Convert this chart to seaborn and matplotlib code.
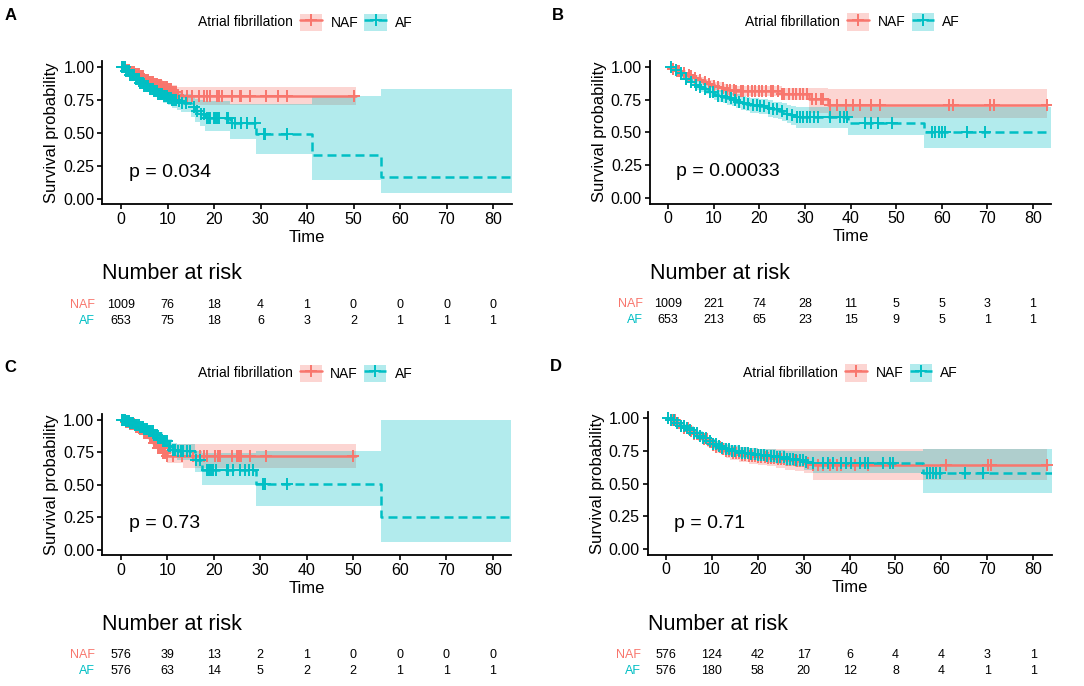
import numpy as np
import pandas as pd
import seaborn as sns
import matplotlib
matplotlib.use("Agg")
import matplotlib.pyplot as plt
from matplotlib.patches import Patch
from matplotlib.lines import Line2D
from matplotlib.transforms import blended_transform_factory

sns.set_style("ticks")
plt.rcParams["font.family"] = ["Liberation Sans", "DejaVu Sans"]
plt.rcParams["text.color"] = "black"
plt.rcParams["axes.labelcolor"] = "black"
plt.rcParams["xtick.color"] = "black"
plt.rcParams["ytick.color"] = "black"

# ---------------- data ----------------
groups = ["NAF", "AF"]
legend_title = "Atrial fibrillation"
risk_times = [0, 10, 20, 30, 40, 50, 60, 70, 80]
xticks = [0, 10, 20, 30, 40, 50, 60, 70, 80]
yticks = [0.00, 0.25, 0.50, 0.75, 1.00]
ytick_labels = ["0.00", "0.25", "0.50", "0.75", "1.00"]

# Panel A
a_naf_t = [0, 1, 2, 3, 4, 5, 6, 7, 8, 9, 10, 11, 12, 13, 50.5]
a_naf_s = [1.00, 0.98, 0.965, 0.95, 0.93, 0.905, 0.89, 0.875, 0.86, 0.845, 0.83, 0.81, 0.79, 0.78, 0.78]
a_naf_lo = [1.00, 0.97, 0.95, 0.93, 0.905, 0.875, 0.855, 0.84, 0.82, 0.80, 0.78, 0.755, 0.73, 0.71, 0.71]
a_naf_hi = [1.00, 0.99, 0.98, 0.97, 0.955, 0.935, 0.925, 0.91, 0.90, 0.89, 0.88, 0.865, 0.85, 0.845, 0.845]
a_naf_cens = [0.3, 0.6, 0.9, 1.2, 1.5, 1.8, 2.1, 2.4, 2.7, 3.0, 3.3, 3.6, 3.9, 4.2, 4.5, 4.8, 5.1, 5.4,
              5.7, 6.0, 6.3, 6.6, 6.9, 7.2, 7.5, 7.8, 8.1, 8.4, 8.7, 9.0, 9.3, 9.6, 9.9, 10.2, 10.5,
              10.8, 11.1, 11.4, 11.8, 12.3, 13.1, 14.2, 15.3, 16.7, 17.9, 18.6, 19.2, 20.7, 21.0,
              21.8, 23.9, 25.5, 25.8, 27.8, 31.2, 33.7, 35.6, 50.0]
a_af_t = [0, 1, 2, 3, 4, 5, 6, 7, 8, 9, 10, 11, 12, 13, 15, 16, 17, 18, 23.5, 29, 41, 56, 84]
a_af_s = [1.0, 0.97, 0.94, 0.91, 0.88, 0.855, 0.835, 0.815, 0.795, 0.78, 0.765, 0.75, 0.74, 0.73,
          0.70, 0.67, 0.645, 0.617, 0.572, 0.489, 0.332, 0.166, 0.166]
a_af_lo = [1.0, 0.955, 0.92, 0.885, 0.85, 0.82, 0.80, 0.775, 0.75, 0.73, 0.71, 0.69, 0.675, 0.66,
           0.62, 0.58, 0.55, 0.516, 0.458, 0.338, 0.144, 0.043, 0.043]
a_af_hi = [1.0, 0.985, 0.96, 0.935, 0.91, 0.89, 0.87, 0.855, 0.84, 0.83, 0.82, 0.81, 0.80, 0.795,
           0.775, 0.76, 0.75, 0.745, 0.72, 0.72, 0.78, 0.836, 0.836]
a_af_cens = [0.2, 0.5, 0.8, 1.1, 1.4, 1.7, 2.0, 2.3, 2.6, 2.9, 3.2, 3.5, 3.8, 4.1, 4.4, 4.7, 5.0, 5.3,
             5.6, 5.9, 6.2, 6.5, 6.8, 7.1, 7.4, 7.7, 8.0, 8.3, 8.6, 8.9, 9.2, 9.5, 9.8, 10.1, 10.4,
             10.7, 11.0, 11.4, 11.8, 12.5, 13.2, 14.0, 15.6, 16.3, 17.1, 17.8, 18.5, 18.9, 19.2,
             19.9, 20.3, 20.6, 21.0, 22.8, 23.1, 23.9, 24.6, 25.8, 27.1, 28.9, 30.7, 31.0, 35.7]
a_risk_naf = [1009, 76, 18, 4, 1, 0, 0, 0, 0]
a_risk_af = [653, 75, 18, 6, 3, 2, 1, 1, 1]
a_pval = "p = 0.034"

# Panel B
b_naf_t = [0, 1, 2, 3, 4, 5, 6, 7, 8, 9, 10, 11, 12, 13, 15, 25, 31, 35, 83]
b_naf_s = [1.0, 0.985, 0.97, 0.955, 0.94, 0.925, 0.91, 0.895, 0.88, 0.865, 0.855, 0.845, 0.835,
           0.825, 0.818, 0.79, 0.755, 0.709, 0.709]
b_naf_lo = [1.0, 0.975, 0.955, 0.94, 0.92, 0.905, 0.885, 0.87, 0.85, 0.835, 0.82, 0.81, 0.80,
            0.785, 0.78, 0.745, 0.65, 0.61, 0.61]
b_naf_hi = [1.0, 0.995, 0.985, 0.975, 0.96, 0.945, 0.935, 0.92, 0.905, 0.895, 0.885, 0.88, 0.87,
            0.86, 0.855, 0.84, 0.835, 0.828, 0.828]
b_naf_cens = [1, 2, 2.5, 3.5, 4.5, 5, 6, 7, 8, 9, 10, 11, 12, 13, 13.5, 14.5, 15, 16, 16.5, 17.5,
              18.5, 19, 20, 20.5, 21.5, 22.5, 23, 24, 25, 25.5, 26.5, 27.5, 28, 29, 29.5, 30.5,
              31.5, 32.5, 33.5, 34, 35.5, 37, 39, 40.5, 42, 44.5, 46.5, 61.5, 62.5, 70.5, 71.5, 83]
b_af_t = [0, 1, 2, 3, 4, 5, 6, 7, 8, 9, 10, 11, 12, 13, 14, 15, 16, 17, 18, 20, 22, 23, 24, 25, 26,
          27, 28, 39.5, 56, 84]
b_af_s = [1.0, 0.975, 0.95, 0.93, 0.905, 0.88, 0.86, 0.845, 0.83, 0.81, 0.795, 0.78, 0.77, 0.76,
          0.75, 0.735, 0.725, 0.715, 0.71, 0.70, 0.685, 0.675, 0.665, 0.65, 0.64, 0.63, 0.617,
          0.57, 0.506, 0.506]
b_af_lo = [1.0, 0.96, 0.93, 0.905, 0.875, 0.85, 0.825, 0.81, 0.79, 0.77, 0.75, 0.735, 0.72, 0.71,
           0.70, 0.685, 0.67, 0.66, 0.65, 0.64, 0.62, 0.61, 0.60, 0.585, 0.57, 0.56, 0.537,
           0.478, 0.38, 0.38]
b_af_hi = [1.0, 0.99, 0.97, 0.955, 0.935, 0.91, 0.895, 0.88, 0.87, 0.85, 0.84, 0.825, 0.82, 0.81,
           0.80, 0.79, 0.78, 0.77, 0.765, 0.755, 0.745, 0.735, 0.73, 0.72, 0.71, 0.70, 0.69,
           0.69, 0.69, 0.69]
b_af_cens = [0.7, 1.8, 2.9, 4.0, 5.1, 6.2, 7.1, 8.1, 9.2, 9.9, 11.0, 11.9, 12.8, 13.7, 14.6, 15.6,
             16.6, 17.6, 18.7, 19.4, 20.1, 21.0, 22.2, 23.1, 23.9, 24.9, 26.0, 27.1, 28.2, 28.9,
             29.6, 30.4, 31.2, 32.0, 32.9, 35.5, 37.7, 38.6, 39.2, 43.2, 44.6, 46.1, 49.0, 57.8,
             58.6, 59.3, 60.0, 60.8, 65.5, 69.5]
b_risk_naf = [1009, 221, 74, 28, 11, 5, 5, 3, 1]
b_risk_af = [653, 213, 65, 23, 15, 9, 5, 1, 1]
b_pval = "p = 0.00033"

# Panel C
c_naf_t = [0, 1, 2, 3, 4, 5, 6, 7, 8, 9, 10, 13.5, 50.5]
c_naf_s = [1.0, 0.98, 0.965, 0.945, 0.925, 0.895, 0.86, 0.82, 0.78, 0.745, 0.722, 0.718, 0.718]
c_naf_lo = [1.0, 0.97, 0.95, 0.925, 0.90, 0.865, 0.825, 0.78, 0.735, 0.695, 0.67, 0.632, 0.632]
c_naf_hi = [1.0, 0.99, 0.98, 0.965, 0.95, 0.925, 0.895, 0.86, 0.825, 0.814, 0.814, 0.81, 0.81]
c_naf_cens = [0.2, 0.5, 0.8, 1.1, 1.4, 1.7, 2.0, 2.3, 2.6, 2.9, 3.2, 3.5, 3.8, 4.1, 4.4, 4.7, 5.0,
              5.3, 5.6, 5.9, 6.2, 6.5, 6.8, 7.1, 7.4, 7.7, 8.0, 8.3, 8.6, 8.9, 9.2, 9.6, 10.0,
              11.3, 13.1, 15.6, 17.1, 17.9, 18.5, 20.3, 21.0, 21.4, 23.9, 25.1, 25.5, 25.8, 27.8,
              31.2, 50.0]
c_af_t = [0, 1, 2, 3, 4, 5, 6, 7, 8, 9, 10, 11, 12, 16, 17.5, 29, 56, 84]
c_af_s = [1.0, 0.985, 0.97, 0.96, 0.945, 0.93, 0.91, 0.885, 0.86, 0.835, 0.80, 0.77, 0.755, 0.69,
          0.614, 0.507, 0.256, 0.256]
c_af_lo = [1.0, 0.97, 0.95, 0.935, 0.915, 0.895, 0.87, 0.84, 0.81, 0.78, 0.745, 0.71, 0.69, 0.60,
           0.50, 0.338, 0.064, 0.064]
c_af_hi = [1.0, 0.995, 0.99, 0.98, 0.97, 0.96, 0.945, 0.925, 0.905, 0.885, 0.85, 0.82, 0.81, 0.76,
           0.74, 0.76, 1.0, 1.0]
c_af_cens = [0.3, 0.6, 0.9, 1.2, 1.5, 1.8, 2.1, 2.4, 2.7, 3.0, 3.3, 3.6, 3.9, 4.2, 4.5, 4.8, 5.1,
             5.4, 5.7, 6.0, 6.3, 6.6, 6.9, 7.2, 7.5, 7.8, 8.1, 8.4, 8.7, 9.0, 9.3, 9.6, 9.9,
             10.3, 10.7, 11.2, 11.7, 12.3, 12.9, 13.5, 14.2, 15.0, 16.3, 17.1, 18.5, 18.9, 19.4,
             19.9, 20.6, 22.8, 23.1, 24.2, 25.7, 26.7, 27.5, 28.5, 30.7, 31.0, 35.7]
c_risk_naf = [576, 39, 13, 2, 1, 0, 0, 0, 0]
c_risk_af = [576, 63, 14, 5, 2, 2, 1, 1, 1]
c_pval = "p = 0.73"

# Panel D
d_naf_t = [0, 1, 2, 3, 4, 5, 6, 7, 8, 9, 10, 11, 12, 13, 14, 16, 18, 20, 22, 24, 26, 28, 30, 32, 83]
d_naf_s = [1.0, 0.98, 0.96, 0.94, 0.92, 0.90, 0.88, 0.86, 0.84, 0.815, 0.795, 0.78, 0.76, 0.745,
           0.73, 0.72, 0.71, 0.704, 0.695, 0.685, 0.678, 0.67, 0.659, 0.641, 0.641]
d_naf_lo = [1.0, 0.97, 0.945, 0.92, 0.895, 0.87, 0.85, 0.825, 0.80, 0.775, 0.75, 0.735, 0.715,
            0.695, 0.68, 0.665, 0.65, 0.64, 0.63, 0.615, 0.605, 0.595, 0.58, 0.527, 0.527]
d_naf_hi = [1.0, 0.99, 0.975, 0.96, 0.945, 0.93, 0.91, 0.895, 0.875, 0.855, 0.84, 0.825, 0.81,
            0.795, 0.785, 0.775, 0.77, 0.765, 0.762, 0.76, 0.76, 0.76, 0.76, 0.76, 0.76]
d_naf_cens = [0.5, 1.2, 1.9, 2.6, 3.3, 4.0, 4.7, 5.4, 6.1, 6.8, 7.5, 8.2, 8.9, 9.6, 10.3, 11.0,
              11.7, 12.4, 13.1, 13.8, 14.5, 15.2, 15.9, 16.6, 17.3, 18.0, 18.7, 19.4, 20.1, 20.8,
              21.5, 22.2, 22.9, 23.6, 24.3, 25.0, 25.7, 26.4, 27.1, 27.8, 28.5, 29.2, 29.9, 31.0,
              32.1, 33.2, 34.3, 35.7, 37.2, 38.2, 41.1, 44.0, 61.1, 70.2, 70.9, 83.0]
d_af_t = [0, 1, 2, 3, 4, 5, 6, 7, 8, 9, 10, 11, 12, 13, 14, 16, 18, 20, 22, 24, 26, 28, 30, 32, 56, 84]
d_af_s = [1.0, 0.98, 0.96, 0.94, 0.925, 0.905, 0.885, 0.865, 0.845, 0.82, 0.80, 0.785, 0.77, 0.76,
          0.75, 0.735, 0.725, 0.717, 0.71, 0.70, 0.69, 0.68, 0.666, 0.654, 0.578, 0.578]
d_af_lo = [1.0, 0.97, 0.945, 0.92, 0.90, 0.875, 0.855, 0.83, 0.81, 0.785, 0.765, 0.75, 0.73, 0.72,
           0.71, 0.695, 0.68, 0.67, 0.66, 0.65, 0.635, 0.625, 0.60, 0.578, 0.43, 0.43]
d_af_hi = [1.0, 0.99, 0.975, 0.96, 0.95, 0.935, 0.915, 0.90, 0.88, 0.855, 0.835, 0.82, 0.81, 0.80,
           0.79, 0.775, 0.77, 0.765, 0.76, 0.755, 0.75, 0.75, 0.75, 0.75, 0.763, 0.763]
d_af_cens = [0.4, 1.1, 1.8, 2.5, 3.2, 3.9, 4.6, 5.3, 6.0, 6.7, 7.4, 8.1, 8.8, 9.5, 10.2, 10.9,
             11.6, 12.3, 13.0, 13.7, 14.4, 15.1, 15.8, 16.5, 17.2, 17.9, 18.6, 19.3, 20.0, 20.7,
             21.4, 22.1, 22.8, 23.5, 24.2, 24.9, 25.6, 26.3, 27.0, 27.7, 28.4, 29.1, 29.8, 30.5,
             32.1, 34.3, 35.3, 36.4, 38.2, 39.3, 40.4, 42.2, 43.3, 44.0, 47.3, 48.8, 49.5, 56.8,
             57.5, 58.2, 58.9, 59.7, 65.1, 69.1]
d_risk_naf = [576, 124, 42, 17, 6, 4, 4, 3, 1]
d_risk_af = [576, 180, 58, 20, 12, 8, 4, 1, 1]
d_pval = "p = 0.71"

# ---------------- styling ----------------
W, H = 1084, 686
colors = {"NAF": "#F8766D", "AF": "#00BFC4"}
styles = {"NAF": "-", "AF": (0, (3.6, 2.0))}
LW = 1.8

fig = plt.figure(figsize=(W / 100, H / 100), dpi=100)


def fx(px):
    return px / W


def fy(py):
    return 1 - py / H


def draw_panel(letter, curves, risks, pval, x0, pxu, y0, pyu):
    xmin, xmax, ymin, ymax = -4, 84, -0.04, 1.045
    left = x0 + xmin * pxu
    right = x0 + xmax * pxu
    bottom = y0 - ymin * pyu
    top = y0 - ymax * pyu
    ax = fig.add_axes([fx(left), fy(bottom), fx(right - left), (bottom - top) / H])

    for g in groups:
        t, s, lo, hi, cens = curves[g]
        c = colors[g]
        ax.fill_between(t, lo, hi, step="post", color=c, alpha=0.3, linewidth=0)
        df = pd.DataFrame({"time": t, "surv": s})
        sns.lineplot(data=df, x="time", y="surv", ax=ax, color=c, linestyle=styles[g],
                     linewidth=LW, drawstyle="steps-post", estimator=None, sort=False)
        idx = np.searchsorted(np.asarray(t), np.asarray(cens), side="right") - 1
        cy = np.asarray(s)[idx]
        sns.scatterplot(x=cens, y=cy, ax=ax, marker="+", s=64, color=c, linewidth=1.4, zorder=3)

    ax.set_xlim(xmin, xmax)
    ax.set_ylim(ymin, ymax)
    ax.set_xticks(xticks)
    ax.set_yticks(yticks)
    ax.set_yticklabels(ytick_labels)
    ax.set_xlabel("Time", fontsize=12, labelpad=2)
    ax.set_ylabel("Survival probability", fontsize=12, labelpad=3)
    ax.tick_params(axis="both", labelsize=11.5, length=3.6, width=1.2, pad=2, colors="black")
    sns.despine(ax=ax)
    for sp in ("left", "bottom"):
        ax.spines[sp].set_linewidth(1.3)
        ax.spines[sp].set_color("black")
    ax.text(1.7, 0.2, pval, fontsize=14, ha="left", va="center")

    # panel letter
    fig.text(fx(left - 98), fy(y0 - 183), letter, fontsize=12, fontweight="bold",
             ha="left", va="center")

    # legend
    ly = y0 - 176.5
    fig.text(fx(left + 190.5), fy(ly), legend_title, fontsize=10, ha="right", va="center")
    handles = []
    for g in groups:
        patch = Patch(facecolor=colors[g], alpha=0.3, edgecolor="none")
        line = Line2D([], [], color=colors[g], linestyle=styles[g], linewidth=LW,
                      marker="+", markersize=8, markeredgewidth=1.4)
        handles.append((patch, line))
    fig.legend(handles, groups, loc="center left",
               bbox_to_anchor=(fx(left + 197.5), fy(ly)), ncol=2, frameon=False,
               fontsize=10, handlelength=1.6, handleheight=1.6, handletextpad=0.6,
               columnspacing=0.45, borderpad=0, borderaxespad=0, numpoints=1)

    # number at risk table
    fig.text(fx(left), fy(y0 + 75), "Number at risk", fontsize=15.5, ha="left", va="center")
    tr = blended_transform_factory(ax.transData, fig.transFigure)
    for g, dy in zip(groups, (105.5, 121.5)):
        fig.text(fx(left - 7), fy(y0 + dy), g, color=colors[g], fontsize=9,
                 ha="right", va="center")
        for tt, n in zip(risk_times, risks[g]):
            ax.text(tt, fy(y0 + dy), str(n), transform=tr, fontsize=9,
                    ha="center", va="center", clip_on=False)
    return ax


draw_panel("A",
           {"NAF": (a_naf_t, a_naf_s, a_naf_lo, a_naf_hi, a_naf_cens),
            "AF": (a_af_t, a_af_s, a_af_lo, a_af_hi, a_af_cens)},
           {"NAF": a_risk_naf, "AF": a_risk_af}, a_pval, 121, 4.65, 199, 132)
draw_panel("B",
           {"NAF": (b_naf_t, b_naf_s, b_naf_lo, b_naf_hi, b_naf_cens),
            "AF": (b_af_t, b_af_s, b_af_lo, b_af_hi, b_af_cens)},
           {"NAF": b_risk_naf, "AF": b_risk_af}, b_pval, 668, 4.5625, 198.3, 131.7)
draw_panel("C",
           {"NAF": (c_naf_t, c_naf_s, c_naf_lo, c_naf_hi, c_naf_cens),
            "AF": (c_af_t, c_af_s, c_af_lo, c_af_hi, c_af_cens)},
           {"NAF": c_risk_naf, "AF": c_risk_af}, c_pval, 120.7, 4.65, 550, 130.5)
draw_panel("D",
           {"NAF": (d_naf_t, d_naf_s, d_naf_lo, d_naf_hi, d_naf_cens),
            "AF": (d_af_t, d_af_s, d_af_lo, d_af_hi, d_af_cens)},
           {"NAF": d_risk_naf, "AF": d_risk_af}, d_pval, 666, 4.59, 549.3, 131.5)

fig.savefig("out.png", dpi=100)
